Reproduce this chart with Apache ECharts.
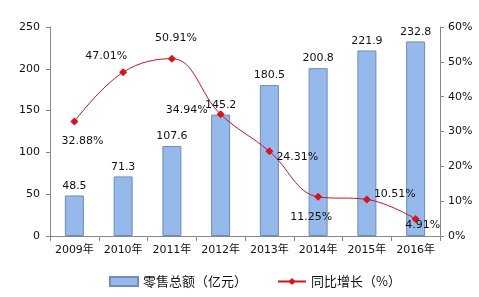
<!DOCTYPE html>
<html><head><meta charset="utf-8">
<script src="https://cdn.jsdelivr.net/npm/echarts@6/dist/echarts.min.js"></script>
<style>html,body{margin:0;padding:0;background:#fff}#c{width:479px;height:297px}</style>
</head><body><div id="c"></div>
<script>
const categories = ['2009年','2010年','2011年','2012年','2013年','2014年','2015年','2016年'];
const retailTotal = [48.5, 71.3, 107.6, 145.2, 180.5, 200.8, 221.9, 232.8];
const growthRate = [32.88, 47.01, 50.91, 34.94, 24.31, 11.25, 10.51, 4.91];
const leftTicks = [0, 50, 100, 150, 200, 250];
const rightTicks = [0, 10, 20, 30, 40, 50, 60];

const labelPlacement = [
  {position:'bottom', offset:[8,5]},
  {position:'top', offset:[-17,-2]},
  {position:'top', offset:[4,-6]},
  {position:'left', offset:[-4,-4]},
  {position:'right', offset:[-2,6]},
  {position:'bottom', offset:[-7,6]},
  {position:'right', offset:[-2,-5]},
  {position:'bottom', offset:[7,-8]}
];
const font = 'DejaVu Sans, Verdana, sans-serif';
const chart = echarts.init(document.getElementById('c'));
chart.setOption({
  animation:false,
  textStyle:{fontFamily:font},
  grid:{left:50, right:39, top:27, bottom:61},
  legend:{
    bottom:4, left:104, itemGap:30, itemWidth:28, itemHeight:9,
    textStyle:{fontFamily:'Noto Sans CJK SC', fontSize:13, color:'#111'},
    data:[{name:'零售总额（亿元）', icon:'rect'}, {name:'同比增长（%）'}]
  },
  xAxis:{
    type:'category', data:categories,
    axisLine:{lineStyle:{color:'#888'}},
    axisTick:{show:true, length:5, lineStyle:{color:'#888'}},
    axisLabel:{interval:0, fontFamily:'DejaVu Sans, Noto Sans CJK SC', fontSize:11, color:'#111', margin:9}
  },
  yAxis:[{
    type:'value', min:0, max:250, interval:50,
    axisLine:{show:true, lineStyle:{color:'#888'}},
    axisTick:{show:true, length:4, lineStyle:{color:'#888'}},
    splitLine:{show:false},
    axisLabel:{fontSize:11, color:'#111', margin:10}
  },{
    type:'value', min:0, max:60, interval:10,
    axisLine:{show:true, lineStyle:{color:'#888'}},
    axisTick:{show:true, length:4, lineStyle:{color:'#888'}},
    splitLine:{show:false},
    axisLabel:{fontSize:11, color:'#111', margin:8, formatter:'{value}%'}
  }],
  series:[{
    name:'零售总额（亿元）', type:'bar', data:retailTotal, barWidth:19,
    itemStyle:{color:'#95B9EA', borderColor:'#6E8DB8', borderWidth:1},
    label:{show:true, position:'top', fontSize:11, color:'#111', distance:4}
  },{
    name:'同比增长（%）', type:'line', yAxisIndex:1, smooth:0.4,
    data: growthRate.map((v,i)=>({value:v, label:labelPlacement[i]})),
    symbol:'diamond', symbolSize:8,
    lineStyle:{color:'#D0101A', width:1},
    itemStyle:{color:'#E0101A'},
    label:{show:true, fontSize:11, color:'#111', formatter:p=>p.value.toFixed(2)+'%'},
    z:5
  }]
});
</script></body></html>
